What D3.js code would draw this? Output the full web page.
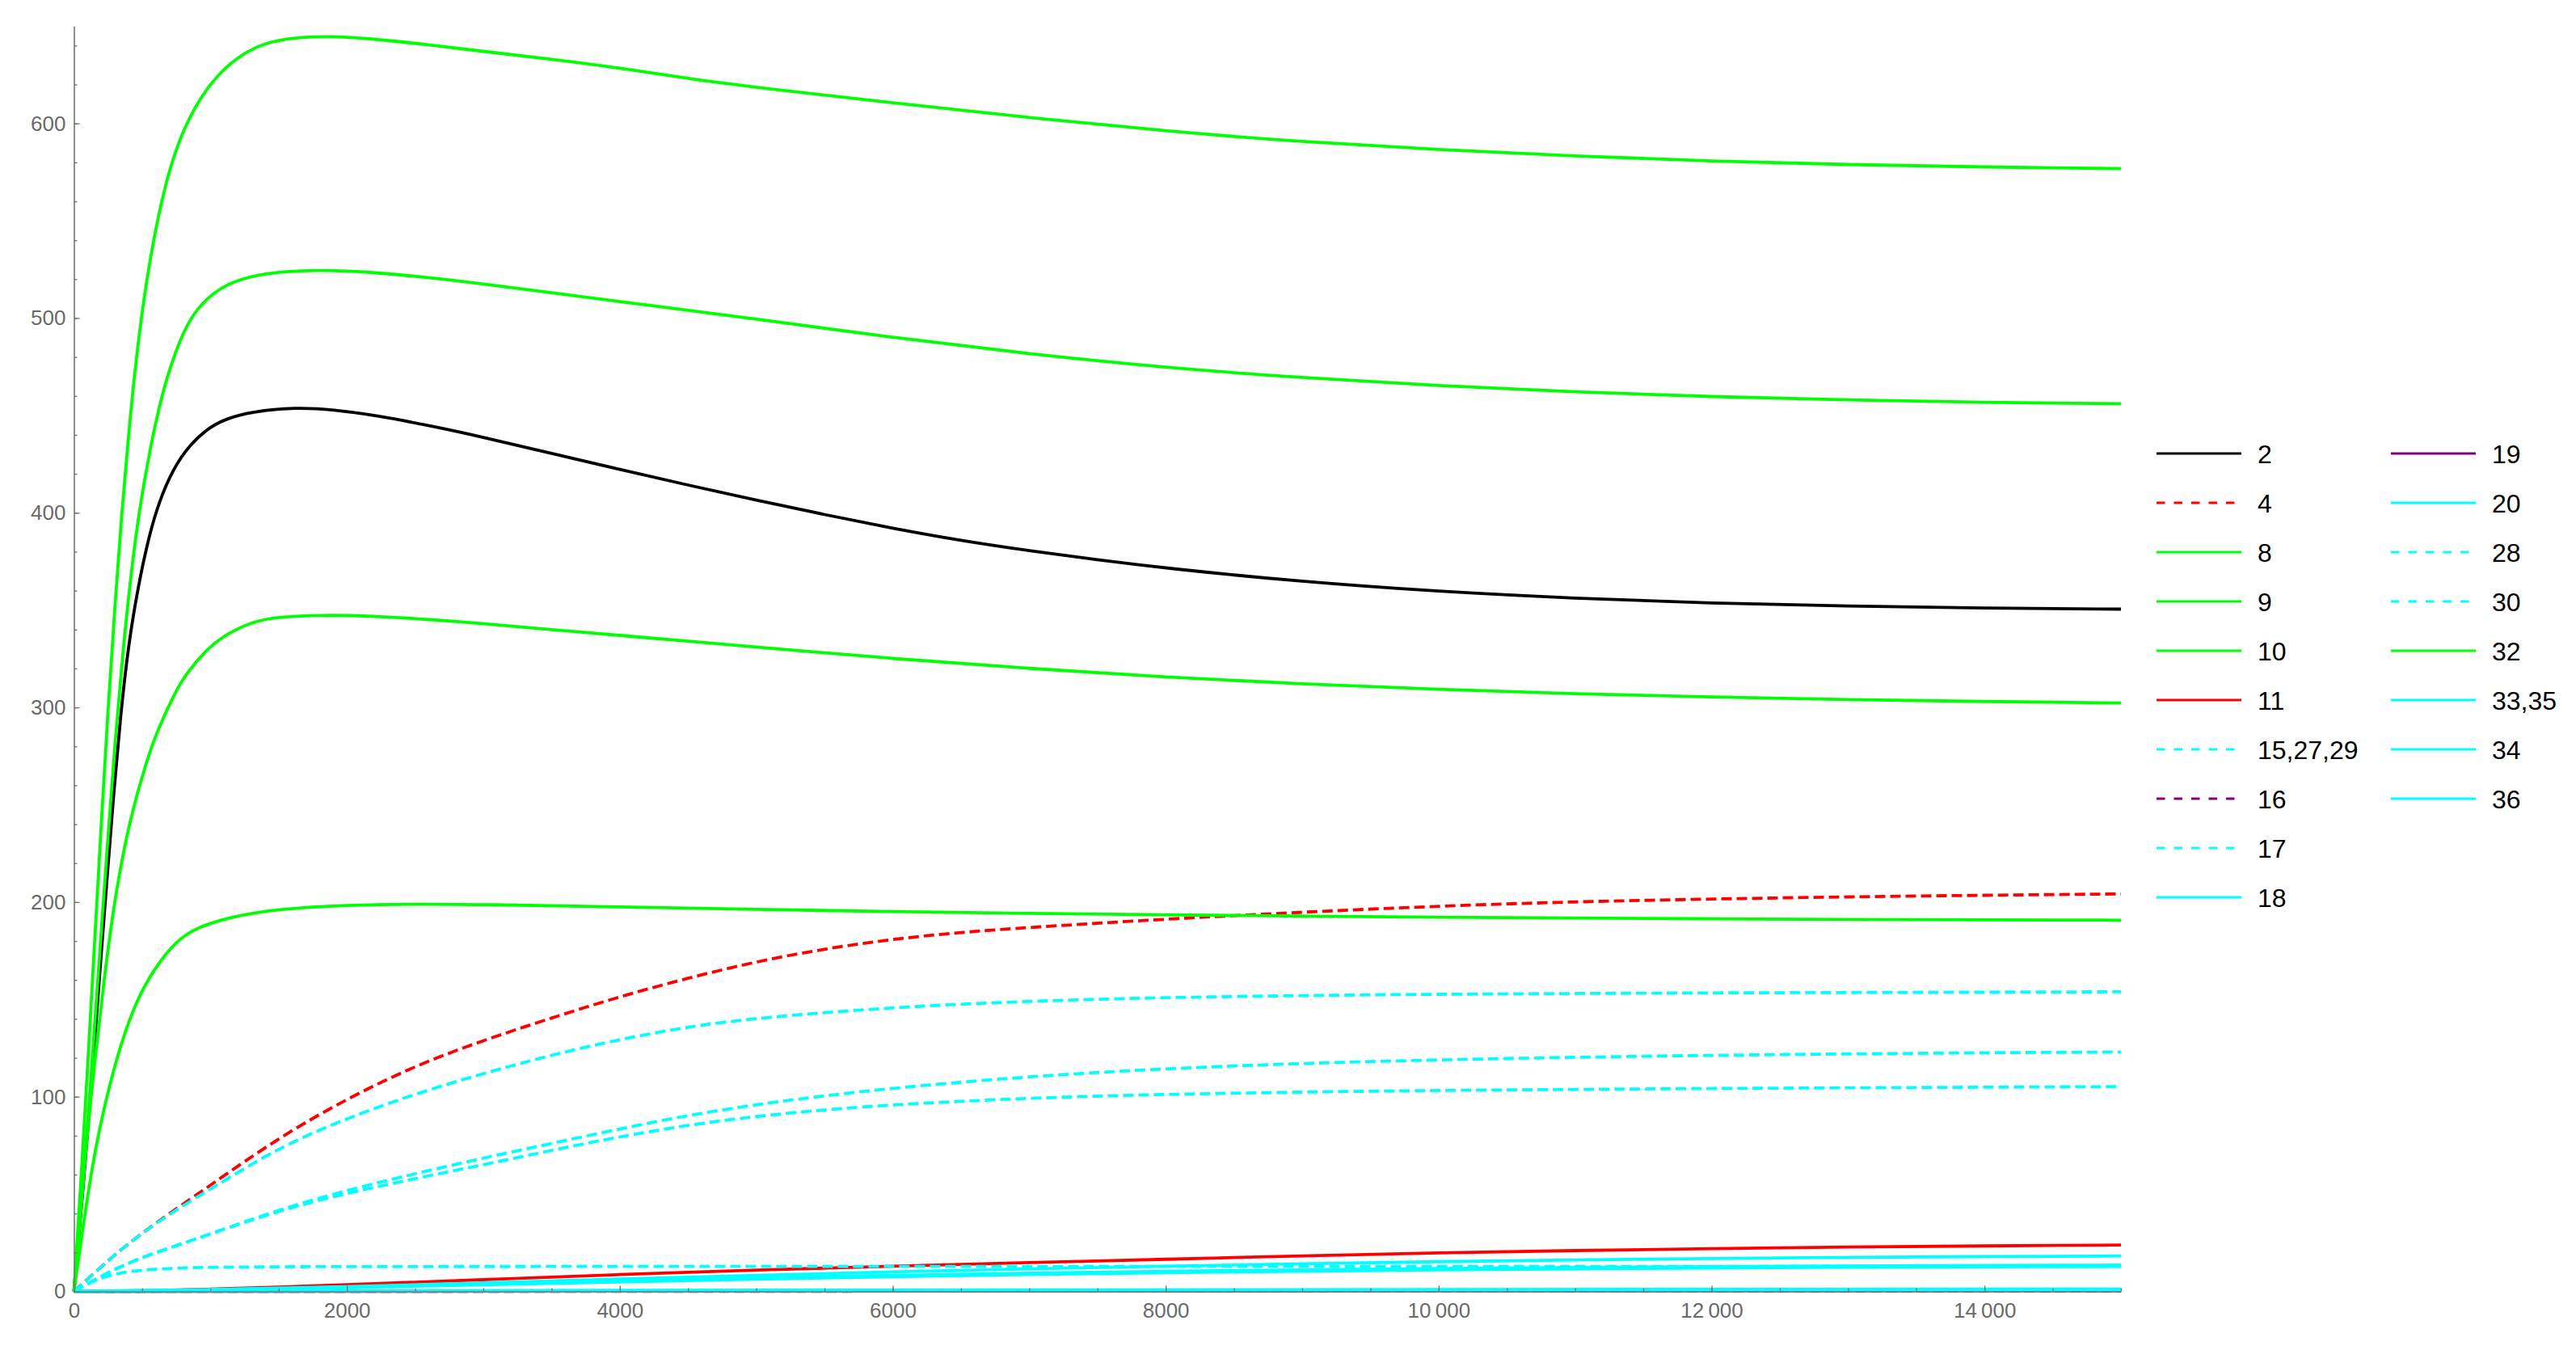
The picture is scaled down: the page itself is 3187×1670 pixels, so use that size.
<!DOCTYPE html>
<html>
<head>
<meta charset="utf-8">
<script src="https://cdnjs.cloudflare.com/ajax/libs/d3/7.8.5/d3.min.js"></script>
<style>
  body { margin: 0; background: #fff; }
</style>
</head>
<body>
<div id="svg_area"></div>
<script>
// Series: [time, value] pairs
var s2 = [[0,0],[70,55],[130,108],[185,160],[240,210],[290,255],[340,295],[400,333],[475,364],[550,388],[620,405],[725,422.5],[850,435],[975,443],[1100,448],[1300,452],[1630,454.2],[1900,453],[2200,450.2],[2650,444.2],[3000,438.8],[3500,430.5],[4000,422.2],[4500,414.2],[5000,406.5],[5500,399],[6000,392],[6500,385.7],[7000,380.5],[7500,375.8],[8000,371.5],[9000,364.5],[10000,359.5],[11000,356],[12000,353.5],[13000,352],[14000,351],[15000,350.5]];
var s4 = [[0,0],[150,9.5],[300,19],[500,30],[750,42.5],[1000,54.5],[1500,79],[2000,99],[2500,116],[3000,129],[3500,140.5],[4000,151.5],[4500,161],[5000,169.5],[5500,176],[6000,181],[6500,184.5],[7000,187],[8000,191.3],[9000,194.8],[10000,198],[11000,200.2],[12000,201.6],[13000,202.7],[14000,203.5],[15000,204.2]];
var s8 = [[0,0],[50,55],[100,115],[150,178],[200,240],[250,300],[300,352],[350,400],[400,440],[450,476],[525,518],[650,565.5],[800,598.5],[1000,621.5],[1200,634.5],[1400,641.5],[1600,644],[1850,645],[2200,643.5],[2650,640],[3000,637],[3500,633],[4000,628.5],[4500,623],[5000,618.5],[6000,610.5],[7000,603],[8000,596],[9000,590.5],[10000,586.5],[11000,583.2],[12000,580.6],[13000,578.8],[14000,577.6],[15000,576.8]];
var s9 = [[0,0],[60,48],[120,105],[180,165],[240,225],[300,282],[360,330],[420,370],[480,402],[550,430],[625,455],[700,474],[800,493],[900,505],[1065,516],[1330,523],[1800,525],[2200,523.5],[2650,520.5],[3000,517.5],[3500,513],[4000,508.5],[4500,504],[5000,499.5],[6000,490],[7000,481.5],[8000,474.5],[9000,469.3],[10000,465.3],[11000,462],[12000,459.6],[13000,457.9],[14000,456.7],[15000,456]];
var s10 = [[0,0],[35,30],[85,72],[150,117],[220,160],[300,203],[410,243],[530,272],[610,288],[750,309],[820,317],[960,329],[1100,337],[1300,344],[1500,346.5],[1800,347.5],[2200,347],[2650,345],[3000,343],[3500,340],[4000,337],[4500,334],[5000,331],[6000,325],[7000,320],[8000,315.5],[9000,312],[10000,309.2],[11000,307],[12000,305.3],[13000,304],[14000,303],[15000,302.3]];
var s11 = [[0,0],[500,0.3],[1000,1.1],[1500,2.2],[2000,3.4],[3000,6],[4000,8.7],[5000,11],[6000,13],[7000,14.8],[8000,16.5],[9000,18.3],[10000,19.8],[11000,21],[12000,22],[13000,22.8],[14000,23.4],[15000,23.8]];
var s15 = [[0,0],[150,9.5],[300,19],[500,30],[750,42],[1000,52.5],[1500,74],[2000,89],[2500,101.5],[3000,112],[3500,121.5],[4000,129.5],[4500,136],[5000,140.5],[6000,146],[7000,149.2],[8000,151],[9000,152],[10000,152.7],[12000,153.4],[15000,153.9]];
var s16 = [[0,0],[5000,0.1],[10000,0.2],[15000,0.2]];
var s17 = [[0,0],[175,7],[350,13],[500,17.5],[750,23.5],[1000,29.5],[1500,42],[2000,52],[2500,60.5],[3000,68.5],[3500,76],[4000,83.5],[4500,90.5],[5000,96],[5500,100.5],[6000,104.5],[7000,110.5],[8000,114.5],[9000,117.2],[10000,119],[11000,120.3],[12000,121.3],[13000,122],[14000,122.6],[15000,123]];
var s18 = [[0,0],[1000,0.8],[2000,2.4],[3000,4.4],[4000,6.4],[5000,8.3],[6000,10],[7000,11.6],[8000,13],[9000,14.2],[10000,15.3],[11000,16.2],[12000,16.9],[13000,17.5],[14000,17.9],[15000,18.2]];
var s19 = [[0,0],[5000,0.2],[10000,0.35],[15000,0.4]];
var s20 = [[0,0],[2000,0.3],[5000,0.7],[10000,1],[15000,1.2]];
var s28 = [[0,0],[175,7],[350,13],[500,17.5],[750,23.5],[1000,29.5],[1500,41.5],[2000,50.5],[2500,58],[3000,65],[3500,72.5],[4000,79.5],[4500,85.5],[5000,90],[5500,93.3],[6000,96],[7000,99.4],[8000,101.3],[9000,102.4],[10000,103.3],[12000,104.3],[15000,105.2]];
var s30 = [[0,0],[100,4],[200,7],[350,9.8],[500,11],[750,12],[1000,12.4],[1500,12.7],[3000,12.8],[8000,12.8],[15000,12.9]];
var s32 = [[0,0],[80,40],[160,76],[300,118],[450,149],[600,167],[750,180],[900,187],[1150,192.5],[1500,196.5],[2000,198.5],[2500,199],[3000,198.8],[4000,197.5],[5000,196.2],[6000,195.1],[7000,194.2],[8000,193.4],[9000,192.8],[10000,192.2],[11000,191.8],[12000,191.4],[13000,191.1],[14000,190.9],[15000,190.7]];
var s33 = [[0,0],[1000,0.7],[2000,2.2],[3000,3.9],[4000,5.5],[5000,7],[6000,8.3],[7000,9.4],[8000,10.3],[9000,11.1],[10000,11.8],[11000,12.3],[12000,12.7],[13000,13.1],[14000,13.3],[15000,13.5]];
var s34 = [[0,0],[1000,0.6],[2000,1.9],[3000,3.4],[4000,4.9],[5000,6.3],[6000,7.6],[7000,8.7],[8000,9.6],[9000,10.4],[10000,11.1],[11000,11.6],[12000,12],[13000,12.4],[14000,12.6],[15000,12.8]];
var s36 = [[0,0],[5000,0.3],[10000,0.5],[15000,0.6]];

// Legend labels, in plotting order
var labels = ["2", "4", "8", "9", "10", "11", "15,27,29", "16", "17", "18",
              "19", "20", "28", "30", "32", "33,35", "34", "36"];

// Tick values
var xMajorTicks = [0, 2000, 4000, 6000, 8000, 10000, 12000, 14000];
var xMinorTicks = d3.range(0, 15001, 500);
var yMajorTicks = [0, 100, 200, 300, 400, 500, 600];
var yMinorTicks = d3.range(0, 641, 20);

// Series table: data + style, same order as labels
var series = [
  {data: s2,  color: "#000000", dashed: false},
  {data: s4,  color: "#ff0000", dashed: true},
  {data: s8,  color: "#00ff00", dashed: false},
  {data: s9,  color: "#00ff00", dashed: false},
  {data: s10, color: "#00ff00", dashed: false},
  {data: s11, color: "#ff0000", dashed: false},
  {data: s15, color: "#00ffff", dashed: true},
  {data: s16, color: "#800080", dashed: true},
  {data: s17, color: "#00ffff", dashed: true},
  {data: s18, color: "#00ffff", dashed: false},
  {data: s19, color: "#800080", dashed: false},
  {data: s20, color: "#00ffff", dashed: false},
  {data: s28, color: "#00ffff", dashed: true},
  {data: s30, color: "#00ffff", dashed: true},
  {data: s32, color: "#00ff00", dashed: false},
  {data: s33, color: "#00ffff", dashed: false},
  {data: s34, color: "#00ffff", dashed: false},
  {data: s36, color: "#00ffff", dashed: false}
];
series.forEach(function(s, i) { s.label = labels[i]; });

// SVG area
var svgWidth = 3187;
var svgHeight = 1670;

var svg = d3.select("#svg_area")
  .append("svg")
  .attr("width", svgWidth)
  .attr("height", svgHeight)
  .style("display", "block");

svg.append("rect")
  .attr("width", svgWidth)
  .attr("height", svgHeight)
  .attr("fill", "#fff");

// Scales
var xScale = d3.scaleLinear()
  .domain([0, 15000])
  .range([91.5, 2624]);

var yScale = d3.scaleLinear()
  .domain([0, 650])
  .range([1597.5, 32.3]);

var axisColor = "#777";
var labelColor = "#6a6a6a";
var tickFont = "Liberation Sans, Arial, sans-serif";

// thin space as thousands separator for 5-digit labels
function xFormat(v) {
  if (v >= 10000) return Math.floor(v / 1000) + "\u2009" + d3.format("03d")(v % 1000);
  return String(v);
}

// Curves
var line = d3.line()
  .x(d => xScale(d[0]))
  .y(d => yScale(d[1]))
  .curve(d3.curveBasis);

svg.append("g")
  .selectAll("path")
  .data(series)
  .enter()
  .append("path")
  .attr("d", d => line(d.data))
  .attr("fill", "none")
  .attr("stroke", d => d.color)
  .attr("stroke-width", 3.8)
  .attr("stroke-linejoin", "round")
  .attr("stroke-dasharray", d => d.dashed ? "13,6" : null);

// Axes: ticks point into the plot, Mathematica style
function styleAxis(g) {
  g.select(".domain").attr("stroke", axisColor).attr("stroke-width", 1.6);
  g.selectAll(".tick line").attr("stroke", axisColor).attr("stroke-width", 1.4);
  g.selectAll(".tick text")
    .attr("fill", labelColor)
    .attr("font-family", tickFont)
    .attr("font-size", "26px");
}

var yMinor = svg.append("g")
  .attr("transform", `translate(${xScale(0)},0)`)
  .call(d3.axisLeft(yScale).tickValues(yMinorTicks).tickSize(-4).tickFormat(""));
yMinor.select(".domain").remove();
yMinor.selectAll(".tick line").attr("stroke", axisColor).attr("stroke-width", 1.4);

var xMinor = svg.append("g")
  .attr("transform", `translate(0,${yScale(0)})`)
  .call(d3.axisBottom(xScale).tickValues(xMinorTicks).tickSize(-4).tickFormat(""));
xMinor.select(".domain").remove();
xMinor.selectAll(".tick line").attr("stroke", axisColor).attr("stroke-width", 1.4);

svg.append("g")
  .attr("transform", `translate(${xScale(0)},0)`)
  .call(d3.axisLeft(yScale).tickValues(yMajorTicks).tickSizeInner(-7).tickSizeOuter(0).tickPadding(10))
  .call(styleAxis);

svg.append("g")
  .attr("transform", `translate(0,${yScale(0)})`)
  .call(d3.axisBottom(xScale).tickValues(xMajorTicks).tickFormat(xFormat).tickSizeInner(-7).tickSizeOuter(0).tickPadding(14))
  .call(styleAxis);

// Legend: two columns
var rowsPerCol = 10;
var legend = svg.append("g");

var items = legend.selectAll("g")
  .data(series)
  .enter()
  .append("g")
  .attr("transform", function(d, i) {
    var col = Math.floor(i / rowsPerCol);
    var row = i % rowsPerCol;
    return `translate(${col === 0 ? 2668 : 2958},${561 + row * 61})`;
  });

items.append("line")
  .attr("x1", 0)
  .attr("x2", 105)
  .attr("y1", 0)
  .attr("y2", 0)
  .attr("stroke", d => d.color)
  .attr("stroke-width", 3.2)
  .attr("stroke-dasharray", d => d.dashed ? "10.5,11" : null);

items.append("text")
  .attr("x", 125)
  .attr("y", 0)
  .attr("dy", "0.36em")
  .attr("font-family", "Liberation Sans, Arial, sans-serif")
  .attr("font-size", "32px")
  .attr("fill", "#000")
  .text(d => d.label);
</script>
</body>
</html>
